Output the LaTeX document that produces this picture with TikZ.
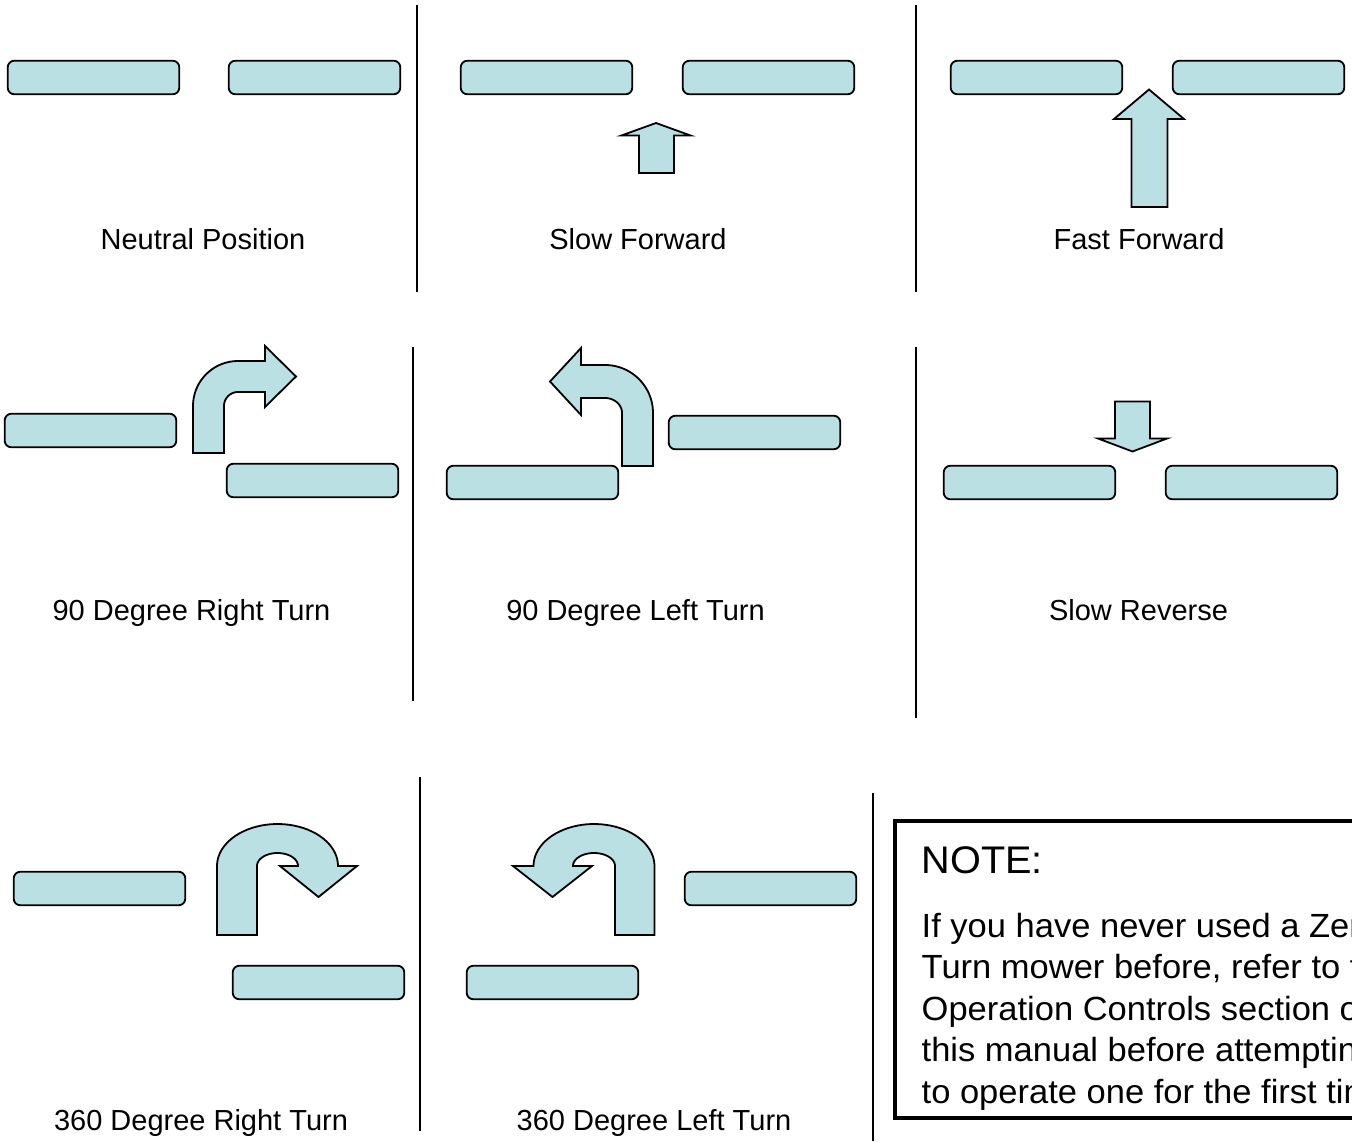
\documentclass[tikz,border=0pt]{standalone}
\usepackage{fontspec}
\setmainfont{Liberation Sans}
\newfontfamily\notefont[FakeStretch=1.03]{Liberation Sans}
\usepackage{tikz}
\definecolor{padblue}{RGB}{186,224,227}

\begin{document}
\begin{tikzpicture}[x=1pt, y=-1pt,
    pad/.style={draw, fill=padblue, rounded corners=6.5, line width=1.8, minimum width=171.5, minimum height=33.5, inner sep=0},
    arrowfill/.style={draw, fill=padblue, line width=1.8, line join=miter},
    divider/.style={line width=1.5},
    lbl/.style={anchor=base, inner sep=0, font=\fontsize{29}{34}\selectfont},
    notetxt/.style={anchor=base west, inner sep=0, font=\notefont\fontsize{33.5}{41}\selectfont}]
  \useasboundingbox (0,0) rectangle (1352,1141);

  % dividers
  \draw[divider] (417,5) -- (417,292);
  \draw[divider] (916,5) -- (916,292);
  \draw[divider] (413,347) -- (413,701);
  \draw[divider] (916,347) -- (916,718);
  \draw[divider] (420,777) -- (420,1131);
  \draw[divider] (873,793) -- (873,1141);

  % neutral
  \node[pad] (neutralL) at (93.5,77.5) {};
  \node[pad] (neutralR) at (314.5,77.5) {};
  \node[lbl] (neutralLbl) at (203,249) {Neutral Position};

  % slow forward
  \node[pad] (slowfwdL) at (546.5,77.5) {};
  \node[pad] (slowfwdR) at (768.5,77.5) {};
  \draw[arrowfill] (639,173) -- (639,135.5) -- (621.5,135.5) -- (656,123) -- (690.5,135.5) -- (674,135.5) -- (674,173) -- cycle;
  \node[lbl] (slowfwdLbl) at (638,249) {Slow Forward};

  % fast forward
  \node[pad] (fastfwdL) at (1036.5,77.5) {};
  \node[pad] (fastfwdR) at (1258.5,77.5) {};
  \draw[arrowfill] (1131.5,207) -- (1131.5,119) -- (1114,119) -- (1149,89.5) -- (1184,119) -- (1167.5,119) -- (1167.5,207) -- cycle;
  \node[lbl] (fastfwdLbl) at (1139,249) {Fast Forward};

  % 90 right
  \node[pad] (rightL) at (90.5,430.5) {};
  \node[pad] (rightR) at (312.5,480.5) {};
  \draw[arrowfill] (193,453) -- (193,406)
    -- plot[domain=180:90, samples=30] ({238+45*cos(\x)}, {406-45*sin(\x)})
    -- (265,361) -- (265,346) -- (296,376.5) -- (265,407) -- (265,392) -- (238,392)
    -- plot[domain=90:180, samples=30] ({238+14*cos(\x)}, {406-14*sin(\x)})
    -- (224,453) -- cycle;
  \node[lbl] (rightLbl) at (191.5,620) {90 Degree Right Turn};

  % 90 left
  \node[pad] (leftL) at (532.5,482.5) {};
  \node[pad] (leftR) at (754.5,432.5) {};
  \draw[arrowfill] (653,466) -- (653,413)
    -- plot[domain=0:90, samples=30] ({605+48*cos(\x)}, {413-48*sin(\x)})
    -- (581,365) -- (581,348) -- (550,381.5) -- (581,415) -- (581,398) -- (605,398)
    -- plot[domain=90:0, samples=30] ({605+17*cos(\x)}, {413-15*sin(\x)})
    -- (622,466) -- cycle;
  \node[lbl] (leftLbl) at (635.5,620) {90 Degree Left Turn};

  % slow reverse
  \node[pad] (slowrevL) at (1029.5,482.5) {};
  \node[pad] (slowrevR) at (1251.5,482.5) {};
  \draw[arrowfill] (1115,401.5) -- (1115,438.5) -- (1098,438.5) -- (1132.5,451.5) -- (1167,438.5) -- (1150,438.5) -- (1150,401.5) -- cycle;
  \node[lbl] (slowrevLbl) at (1138.5,620) {Slow Reverse};

  % 360 right
  \node[pad] (spinrightL) at (99.5,888.5) {};
  \node[pad] (spinrightR) at (318.5,982.5) {};
  \draw[arrowfill] (217,935) -- (217,866)
    -- plot[domain=180:0, samples=40] ({277.5+60.5*cos(\x)}, {866-42*sin(\x)})
    -- (357,866) -- (318.5,897) -- (280,866)
    -- plot[domain=0:180, samples=40] ({277.5+20.5*cos(\x)}, {866-13*sin(\x)})
    -- (257,935) -- cycle;
  \node[lbl] (spinrightLbl) at (201,1130) {360 Degree Right Turn};

  % 360 left
  \node[pad] (spinleftL) at (552.5,982.5) {};
  \node[pad] (spinleftR) at (770.5,888.5) {};
  \draw[arrowfill] (654.5,935) -- (654.5,866)
    -- plot[domain=0:180, samples=40] ({594+60.5*cos(\x)}, {866-42*sin(\x)})
    -- (513,866) -- (552.5,897) -- (592,866)
    -- plot[domain=180:0, samples=40] ({594+21*cos(\x)}, {866-13*sin(\x)})
    -- (615,935) -- cycle;
  \node[lbl] (spinleftLbl) at (654,1130) {360 Degree Left Turn};

  % note box, running off the page
  \begin{scope}
    \clip (0,0) rectangle (1352,1141);
    \draw[line width=4.8] (895,821) rectangle (1420,1118);
    \node[notetxt, font=\notefont\fontsize{38.5}{44}\selectfont] (noteHead) at (921.5,873.5) {NOTE:};
    \foreach \txt [count=\i] in {{If you have never used a Zero}, {Turn mower before, refer to the}, {Operation Controls section of}, {this manual before attempting}, {to operate one for the first time.}}
      \node[notetxt] (note\i) at (921.5,{895.5+41.5*\i}) {\txt};
  \end{scope}
\end{tikzpicture}
\end{document}
